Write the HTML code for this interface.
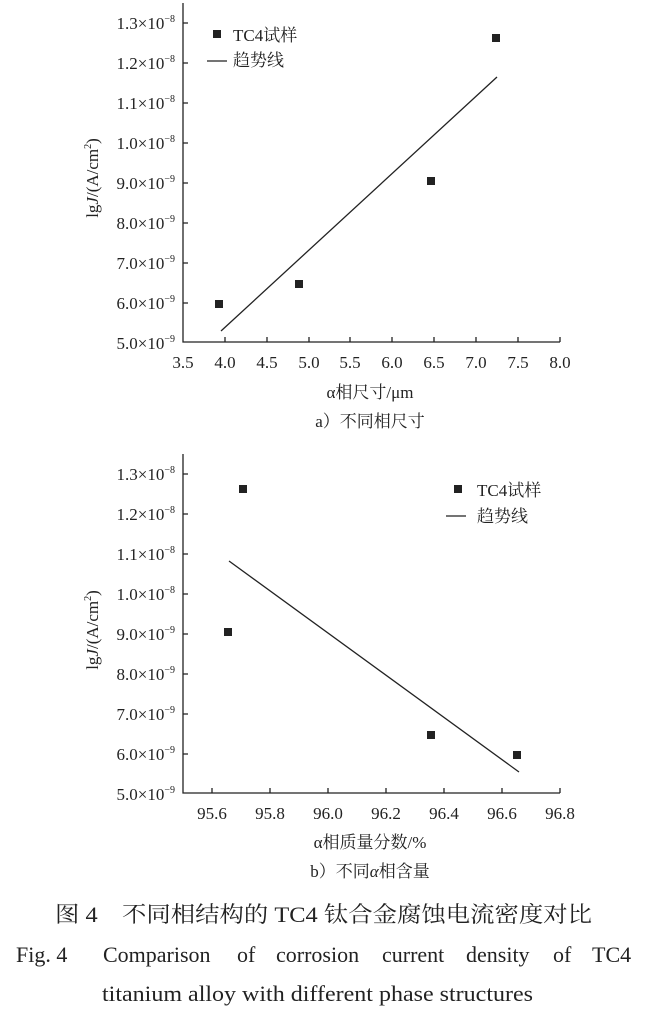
<!DOCTYPE html>
<html><head><meta charset="utf-8"><style>
body{margin:0;background:#fff}
svg text{font-family:"Liberation Serif","Noto Serif CJK SC",serif;fill:#222}
</style></head><body>
<svg width="646" height="1013" viewBox="0 0 646 1013" xmlns="http://www.w3.org/2000/svg">
<g stroke="#222" stroke-width="1.3" fill="none">
<path d="M183 3V342H560"/>
<path d="M183 23h5M183 63h5M183 103h5M183 143h5M183 183h5M183 223h5M183 263h5M183 303h5"/>
<path d="M225 342v-5M267 342v-5M309 342v-5M350 342v-5M392 342v-5M434 342v-5M476 342v-5M518 342v-5M560 342v-5"/>
<path d="M221 331L497 77"/>
<path d="M207 61h20"/>
<path d="M183 454V793H560"/>
<path d="M183 474h5M183 514h5M183 554h5M183 594h5M183 634h5M183 674h5M183 714h5M183 754h5"/>
<path d="M212 793v-5M270 793v-5M328 793v-5M386 793v-5M444 793v-5M502 793v-5M560 793v-5"/>
<path d="M229 561L519 772"/>
<path d="M446 516h20"/>
</g>
<g fill="#222">
<rect x="215" y="300" width="8" height="8"/><rect x="295" y="280" width="8" height="8"/>
<rect x="427" y="177" width="8" height="8"/><rect x="492" y="34" width="8" height="8"/>
<rect x="213" y="30" width="8" height="8"/>
<rect x="239" y="485" width="8" height="8"/><rect x="224" y="628" width="8" height="8"/>
<rect x="427" y="731" width="8" height="8"/><rect x="513" y="751" width="8" height="8"/>
<rect x="454" y="485" width="8" height="8"/>
</g>
<g font-size="17" text-anchor="end">
<text x="175" y="29">1.3×10<tspan font-size="10" dy="-7">−8</tspan></text>
<text x="175" y="69">1.2×10<tspan font-size="10" dy="-7">−8</tspan></text>
<text x="175" y="109">1.1×10<tspan font-size="10" dy="-7">−8</tspan></text>
<text x="175" y="149">1.0×10<tspan font-size="10" dy="-7">−8</tspan></text>
<text x="175" y="189">9.0×10<tspan font-size="10" dy="-7">−9</tspan></text>
<text x="175" y="229">8.0×10<tspan font-size="10" dy="-7">−9</tspan></text>
<text x="175" y="269">7.0×10<tspan font-size="10" dy="-7">−9</tspan></text>
<text x="175" y="309">6.0×10<tspan font-size="10" dy="-7">−9</tspan></text>
<text x="175" y="349">5.0×10<tspan font-size="10" dy="-7">−9</tspan></text>
<text x="175" y="480">1.3×10<tspan font-size="10" dy="-7">−8</tspan></text>
<text x="175" y="520">1.2×10<tspan font-size="10" dy="-7">−8</tspan></text>
<text x="175" y="560">1.1×10<tspan font-size="10" dy="-7">−8</tspan></text>
<text x="175" y="600">1.0×10<tspan font-size="10" dy="-7">−8</tspan></text>
<text x="175" y="640">9.0×10<tspan font-size="10" dy="-7">−9</tspan></text>
<text x="175" y="680">8.0×10<tspan font-size="10" dy="-7">−9</tspan></text>
<text x="175" y="720">7.0×10<tspan font-size="10" dy="-7">−9</tspan></text>
<text x="175" y="760">6.0×10<tspan font-size="10" dy="-7">−9</tspan></text>
<text x="175" y="800">5.0×10<tspan font-size="10" dy="-7">−9</tspan></text>
</g>
<g font-size="17" text-anchor="middle">
<text x="183" y="368">3.5</text><text x="225" y="368">4.0</text><text x="267" y="368">4.5</text>
<text x="309" y="368">5.0</text><text x="350" y="368">5.5</text><text x="392" y="368">6.0</text>
<text x="434" y="368">6.5</text><text x="476" y="368">7.0</text><text x="518" y="368">7.5</text><text x="560" y="368">8.0</text>
<text x="212" y="819">95.6</text><text x="270" y="819">95.8</text><text x="328" y="819">96.0</text>
<text x="386" y="819">96.2</text><text x="444" y="819">96.4</text><text x="502" y="819">96.6</text><text x="560" y="819">96.8</text>
<text x="370" y="398">α相尺寸/μm</text>
<text x="370" y="427">a）不同相尺寸</text>
<text x="370" y="848">α相质量分数/%</text>
<text x="370" y="877">b）不同<tspan font-style="italic">α</tspan>相含量</text>
</g>
<g font-size="17">
<text x="233" y="41">TC4试样</text><text x="233" y="66">趋势线</text>
<text x="477" y="496">TC4试样</text><text x="477" y="522">趋势线</text>
<text transform="translate(98 178) rotate(-90)" text-anchor="middle">lg<tspan font-style="italic">J</tspan>/(A/cm<tspan font-size="10" dy="-7">2</tspan><tspan dy="7">)</tspan></text>
<text transform="translate(98 630) rotate(-90)" text-anchor="middle">lg<tspan font-style="italic">J</tspan>/(A/cm<tspan font-size="10" dy="-7">2</tspan><tspan dy="7">)</tspan></text>
</g>
<g font-size="22">
<text x="55" y="922" textLength="537" lengthAdjust="spacingAndGlyphs">图 4　不同相结构的 TC4 钛合金腐蚀电流密度对比</text>
<text x="16" y="962">Fig. 4</text>
<text x="103" y="962">Comparison</text>
<text x="237" y="962">of</text>
<text x="276" y="962">corrosion</text>
<text x="382" y="962">current</text>
<text x="466" y="962">density</text>
<text x="553" y="962">of</text>
<text x="592" y="962">TC4</text>
<text x="102" y="1001" textLength="431" lengthAdjust="spacingAndGlyphs">titanium alloy with different phase structures</text>
</g>
</svg>
</body></html>
